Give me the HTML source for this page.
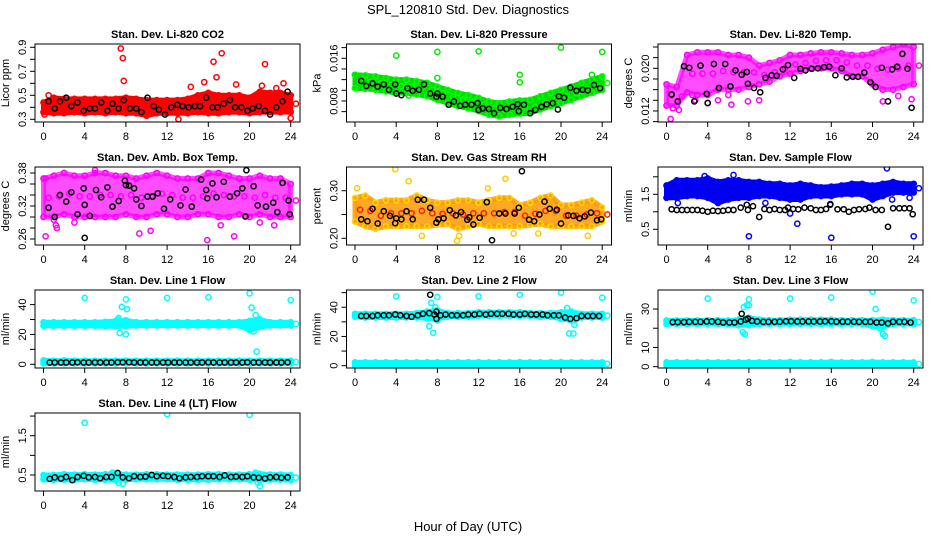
<!DOCTYPE html>
<html><head><meta charset="utf-8">
<style>
html,body{margin:0;padding:0;background:#fff;}
svg{display:block;font-family:"Liberation Sans",Arial,sans-serif;}
</style></head>
<body>
<svg id="chart" width="936" height="540" viewBox="0 0 936 540" xmlns="http://www.w3.org/2000/svg">
<rect x="0" y="0" width="936" height="540" fill="#fff"/>
<text x="468" y="14" text-anchor="middle" font-size="13">SPL_120810  Std. Dev. Diagnostics</text>
<text x="468" y="531" text-anchor="middle" font-size="13">Hour of Day (UTC)</text>
</svg>
<script>
// ---------- data ----------
const bandHours = [0,1,2,3,4,5,6,7,8,9,10,11,12,13,14,15,16,17,18,19,20,21,22,23,24];

// P1 CO2
const co2Lo = [0.36,0.35,0.35,0.36,0.35,0.36,0.35,0.36,0.35,0.35,0.33,0.35,0.35,0.35,0.35,0.36,0.35,0.35,0.36,0.36,0.35,0.36,0.36,0.36,0.36];
const co2Hi = [0.44,0.48,0.47,0.47,0.47,0.47,0.47,0.47,0.48,0.47,0.46,0.46,0.46,0.46,0.47,0.50,0.52,0.50,0.50,0.50,0.48,0.53,0.52,0.52,0.50];
const co2OutX = [7.5,7.7,7.8,16.5,16.8,17.3,21.5,15.6,23.3,18.7,21.2,14.3,22.6,13.1,24,0.1,0.5];
const co2OutY = [0.89,0.81,0.62,0.78,0.65,0.85,0.76,0.61,0.60,0.59,0.58,0.57,0.56,0.30,0.31,0.34,0.50];
const co2BlackX = [0.5,1.1,1.6,2.2,2.7,3.3,3.9,4.5,5,5.6,6.2,6.7,7.3,7.8,8.4,9,9.5,10.1,10.7,11.2,11.8,12.4,13,13.5,14.1,14.7,15.2,15.8,16.4,16.9,17.5,18.1,18.6,19.2,19.8,20.3,20.9,21.5,22,22.6,23.2,23.7];
const co2BlackY = [0.45,0.39,0.45,0.48,0.41,0.44,0.37,0.39,0.39,0.44,0.37,0.43,0.39,0.46,0.39,0.39,0.36,0.48,0.41,0.38,0.34,0.40,0.42,0.41,0.40,0.41,0.41,0.48,0.40,0.40,0.43,0.46,0.40,0.40,0.37,0.39,0.41,0.37,0.34,0.40,0.45,0.53];

// P2 Pressure
const presLo = [0.0104,0.0103,0.0101,0.0098,0.0095,0.0095,0.0092,0.0089,0.0082,0.0076,0.0070,0.0066,0.0061,0.0054,0.0051,0.0054,0.0056,0.0057,0.0064,0.0070,0.0076,0.0082,0.0089,0.0095,0.0101];
const presHi = [0.0129,0.0128,0.0126,0.0123,0.0120,0.0120,0.0117,0.0114,0.0107,0.0101,0.0095,0.0091,0.0086,0.0079,0.0076,0.0079,0.0081,0.0082,0.0089,0.0095,0.0101,0.0107,0.0114,0.0120,0.0126];
const presOutX = [4,8,12,20,24,8,16,16,0,23,5.2];
const presOutY = [0.0165,0.0172,0.0173,0.0180,0.0172,0.0123,0.0129,0.0115,0.0129,0.0129,0.0090];
const presBlackX = [0.6,1.1,1.7,2.2,2.8,3.3,3.9,4.0,4.5,5.1,5.6,6.2,6.7,7.3,7.9,8.0,8.5,9.1,9.6,10.2,10.7,11.3,11.9,12.0,12.4,13,13.5,14.1,14.7,15.3,15.8,15.9,16.4,17,17.5,18.1,18.6,19.2,19.7,19.8,20.3,20.9,21.5,22.1,22.6,23.2,23.8];
const presBlackY = [0.01175,0.0108,0.0113,0.0107,0.0111,0.0101,0.0111,0.0094,0.0091,0.0104,0.0099,0.0101,0.0111,0.0094,0.0088,0.0094,0.0088,0.0073,0.0079,0.0071,0.0073,0.0073,0.0076,0.0063,0.0066,0.0065,0.0057,0.0067,0.0065,0.0069,0.0074,0.0061,0.0073,0.0057,0.0063,0.0069,0.0074,0.0076,0.0064,0.0089,0.0086,0.0105,0.0099,0.0101,0.0100,0.0110,0.0104];

// P3 Li-820 Temp
const tempLo = [0.0130,0.0130,0.0155,0.0150,0.0150,0.0160,0.0160,0.0160,0.0165,0.0170,0.0175,0.0185,0.0190,0.0195,0.0200,0.0200,0.0200,0.0195,0.0185,0.0185,0.0170,0.0160,0.0160,0.0165,0.0170];
const tempHi = [0.0170,0.0165,0.0225,0.0230,0.0230,0.0230,0.0225,0.0225,0.0220,0.0205,0.0210,0.0215,0.0225,0.0225,0.0228,0.0230,0.0230,0.0228,0.0225,0.0225,0.0228,0.0235,0.0240,0.0245,0.0240];
const tempOutX = [0.4,2.8,4,5,6.3,7.9,9,2.5,6,21,22.5,23.8,0.6,1.2];
const tempOutY = [0.0105,0.0140,0.0135,0.0140,0.0132,0.0138,0.0140,0.0150,0.0150,0.0138,0.0148,0.0142,0.0125,0.0122];
const tempBlackX = [0.5,1.1,1.7,2.2,2.7,3.3,3.9,4,4.6,5.1,5.7,6.2,6.7,7.3,7.8,7.9,8.5,9.1,9.6,10.2,10.7,11.3,11.8,12.4,13,13.5,14.1,14.7,15.3,15.8,16.4,17,17.5,18.1,18.6,19.2,19.8,20.3,20.9,21.5,21.9,22.4,22.9,23.4,23.8];
const tempBlackY = [0.0151,0.0138,0.0204,0.0201,0.0138,0.0205,0.0152,0.0135,0.0208,0.0163,0.0208,0.0166,0.0196,0.0188,0.0193,0.0171,0.0163,0.0155,0.0182,0.0187,0.0186,0.0198,0.0206,0.0182,0.0199,0.0196,0.0199,0.0200,0.0202,0.0203,0.0187,0.0200,0.0183,0.0184,0.0184,0.0192,0.0174,0.0165,0.0201,0.0138,0.0198,0.0203,0.0227,0.0199,0.0126];

// P4 Amb Box Temp
const boxLo = [0.30,0.30,0.305,0.30,0.30,0.30,0.30,0.30,0.305,0.30,0.30,0.305,0.305,0.30,0.30,0.305,0.305,0.30,0.30,0.305,0.30,0.305,0.30,0.30,0.30];
const boxHi = [0.37,0.375,0.38,0.375,0.375,0.38,0.38,0.375,0.375,0.37,0.375,0.38,0.375,0.37,0.37,0.37,0.38,0.38,0.375,0.37,0.37,0.375,0.37,0.37,0.36];
const boxOutX = [0.2,1.2,1.3,9.3,10.4,15.9,17.2,18.5,22.4,1.0,5.0,0.2,3.0,21.0];
const boxOutY = [0.265,0.285,0.280,0.270,0.275,0.258,0.285,0.265,0.285,0.295,0.385,0.370,0.290,0.290];
const boxBlackX = [0.5,1.1,1.6,2.2,2.7,3.3,3.9,4.0,4.0,4.5,5.1,5.6,6.2,6.7,7.3,7.9,8.0,8.3,8.8,9.0,9.5,10.1,10.6,11.1,11.7,12.3,13.3,13.8,14.4,15.3,15.8,15.9,16.4,16.8,17.5,18.1,18.8,19.3,19.6,19.7,20.4,20.8,21.6,22.3,22.7,23.2,23.8,23.9];
const boxBlackY = [0.317,0.300,0.340,0.328,0.345,0.305,0.352,0.262,0.322,0.302,0.349,0.336,0.354,0.319,0.329,0.366,0.358,0.357,0.352,0.332,0.320,0.337,0.337,0.343,0.315,0.332,0.321,0.350,0.319,0.368,0.349,0.334,0.361,0.336,0.364,0.337,0.343,0.352,0.301,0.385,0.356,0.321,0.319,0.326,0.309,0.362,0.330,0.305];

// P5 Gas Stream RH
const rhLo = [0.235,0.225,0.22,0.225,0.225,0.225,0.225,0.225,0.228,0.23,0.22,0.225,0.23,0.225,0.225,0.225,0.225,0.228,0.23,0.225,0.225,0.225,0.225,0.225,0.235];
const rhHi = [0.285,0.29,0.275,0.28,0.28,0.28,0.29,0.28,0.275,0.275,0.28,0.28,0.275,0.28,0.285,0.285,0.27,0.275,0.285,0.29,0.27,0.27,0.275,0.28,0.265];
const rhOutX = [3.9,5.2,12.9,14.6,9.9,10.1,6.5,17.8,22.6,0.2,15.4];
const rhOutY = [0.345,0.320,0.305,0.325,0.195,0.205,0.205,0.210,0.205,0.305,0.210];
const rhBlackX = [0.6,1.2,1.7,2.2,2.8,3.4,3.9,4,4.5,5,5.6,6.1,6.7,7.3,7.9,8.1,8.6,9.2,9.8,10.3,10.9,11.1,11.5,12.1,12.8,13.3,14.0,14.6,15.5,15.9,16.2,16.9,17.4,17.9,18.4,18.9,19.6,20.0,20.7,21.2,21.8,22.3,22.9,23.5,23.9];
const rhBlackY = [0.240,0.236,0.262,0.231,0.257,0.247,0.232,0.242,0.240,0.257,0.240,0.281,0.281,0.264,0.233,0.240,0.242,0.259,0.248,0.255,0.239,0.244,0.229,0.243,0.276,0.196,0.252,0.252,0.252,0.264,0.341,0.239,0.236,0.250,0.277,0.262,0.260,0.231,0.248,0.247,0.242,0.246,0.254,0.238,0.240];

// P6 Sample Flow
const sfLo = [1.40,1.40,1.45,1.45,1.40,1.25,1.35,1.40,1.40,1.45,1.45,1.40,1.35,1.35,1.45,1.45,1.45,1.50,1.50,1.50,1.35,1.45,1.55,1.55,1.55];
const sfHi = [1.75,1.90,1.90,1.90,1.95,1.85,1.90,1.90,1.85,1.85,1.80,1.80,1.75,1.80,1.75,1.70,1.72,1.75,1.80,1.80,1.75,1.80,1.85,1.80,1.80];
const sfOutX = [8,16,24,12.7,21.4,12,1.1,9.6,15.9,21.9,23.6,6.5,3.7];
const sfOutY = [0.30,0.26,0.30,0.66,2.24,0.95,1.25,1.25,1.20,1.35,1.40,2.05,2.02];
const sfBlackX = [0.5,1.0,1.5,2.0,2.5,3,3.5,4,4.5,5,5.5,6,6.5,7.2,7.8,7.9,8.4,9.0,9.5,10,10.5,11,11.5,11.8,12.3,12.8,13.4,14,14.5,15,15.5,15.9,16.6,17.2,17.7,18.2,18.7,19.3,19.7,20.3,20.9,21.5,22,22.6,23.1,23.6,23.9];
const sfBlackY = [1.07,1.05,1.05,1.05,1.05,1.05,1.03,1.0,1.03,1.02,1.03,1.05,1.05,1.12,1.2,1.05,1.16,0.85,1.08,1.05,1.08,1.05,1.05,1.12,1.08,1.07,1.12,1.1,1.05,1.05,1.08,1.22,1.07,1.07,1.0,1.05,1.07,1.08,1.12,1.05,1.05,0.57,1.10,1.10,1.10,1.10,0.93];

// Line flows (shared black sample hours)
const lineBlackHours = [0.6,1.1,1.7,2.2,2.8,3.3,3.9,4.4,5,5.5,6.1,6.6,7.2,7.7,8.3,8.8,9.4,9.9,10.5,11,11.6,12.1,12.7,13.2,13.8,14.3,14.9,15.4,16,16.5,17.1,17.6,18.2,18.7,19.3,19.8,20.4,20.9,21.5,22,22.6,23.1,23.7];

// P7 Line 1
const l1UpLo = [25.8,25.8,25.8,25.8,25.8,25.8,25.5,25.5,25.5,26,26,26,26,26,26,26,26,26,26,26,23,25,26,26,26];
const l1UpHi = [28.2,28.2,28.2,28.2,28.2,28.2,28.5,29,29.5,28.2,28.2,28.2,28.2,28.2,28.2,28.2,28.2,28.2,28.2,28.2,29,30,28.2,28.2,28.2];
const l1DnLo = [0.6,0.6,0.6,0.6,0.6,0.6,0.6,0.6,0.6,0.6,0.6,0.6,0.6,0.6,0.6,0.6,0.6,0.6,0.6,0.6,0.6,0.6,0.6,0.6,0.6];
const l1DnHi = [2.6,2.4,2.6,2.4,2.4,2.4,2.4,2.4,2.4,2.4,2.4,2.4,2.4,2.4,2.4,2.4,2.4,2.4,2.4,2.4,2.4,2.4,2.4,2.4,2.4];
const l1OutX = [4,8,12,16,20,24,7.6,8.1,7.3,7.4,8,20.2,20.6,20.7,20.4,21,7.2];
const l1OutY = [44.5,43.5,44.5,45,47.5,43,38.5,37,31,21,20,38,33,8.5,22,30,30];
const l1BlackY = [1.2,1.2,1.2,1.2,1.2,1.3,1.2,1.2,1.2,1.2,1.2,1.2,1.3,1.3,1.4,1.2,1.2,1.2,1.2,1.2,1.2,1.2,1.2,1.2,1.2,1.2,1.2,1.2,1.3,1.2,1.2,1.2,1.2,1.2,1.2,1.3,1.2,1.2,1.2,1.2,1.2,1.2,1.3];

// P8 Line 2
const l2UpLo = [33.5,33,33,33,33,33,33,32.5,32,33.5,33.5,33.5,34,34,34,34,34,34,33.5,33.5,32,31,33,33,33];
const l2UpHi = [35.5,35.5,35.5,35.5,35.5,35.5,36,37,38,36,36,36,36.5,36.5,36.5,36.5,36.5,36,36,36,36.5,37,35.5,35.5,35.5];
const l2DnLo = [0.3,0.3,0.3,0.3,0.3,0.3,0.3,0.3,0.3,0.3,0.3,0.3,0.3,0.3,0.3,0.3,0.3,0.3,0.3,0.3,0.3,0.3,0.3,0.3,0.3];
const l2DnHi = [2.2,2.2,2.2,2.2,2.2,2.2,2.2,2.2,2.2,2.2,2.2,2.4,2.4,2.2,2.2,2.2,2.4,2.2,2.2,2.4,2.4,2.2,2.2,2.2,2.2];
const l2OutX = [4,8,12,16,20,24,7.2,7.6,7.4,8,20.6,20.8,21.2,21.3,7.8];
const l2OutY = [47.5,47,47.5,48.5,50,46.5,27,22.5,43,31,39.5,22,22,28,40];
const l2BlackY = [34,34,34,34.5,34.5,34.5,35,34.5,34,33.5,34.5,35.5,36,35,34.5,35,34.5,34.5,34.5,35,35,35.5,35,35.5,35.5,35.5,35.5,35,35,35.5,35,35,35,34.5,34.5,34.5,33,32,32.5,34,34,34,34];
const l2BlackExX = [7.3,7.9,7.9];
const l2BlackExY = [48.5,32,37];

// P9 Line 3
const l3UpLo = [22.2,22.2,22.2,22.2,22.2,22.2,22,21.5,21.5,22.2,22.2,22.2,22.2,22.2,22.2,22.2,22.2,22.2,22.2,22.2,21,20.5,22.2,22.2,22.2];
const l3UpHi = [24,24,24,24,24.2,24.2,24,24.5,25.5,24.5,24.2,24.2,24.5,24.5,24.5,24.5,24.5,24.2,24.2,24.2,24.2,24.5,24.2,24.2,24.2];
const l3DnLo = [0.6,0.6,0.6,0.6,0.6,0.6,0.6,0.6,0.6,0.6,0.6,0.6,0.6,0.6,0.6,0.6,0.6,0.6,0.6,0.6,0.6,0.6,0.6,0.6,0.6];
const l3DnHi = [2.2,2.2,2.2,2.2,2.2,2.2,2.2,2.2,2.2,2.2,2.2,2.2,2.4,2.2,2.2,2.2,2.4,2.2,2.2,2.2,2.4,2.2,2.2,2.2,2.2];
const l3OutX = [4,8,12,16,20,24,7.5,7.8,8.0,7.4,7.6,20.3,20.7,21,21.2,7.2];
const l3OutY = [35.5,35,35.5,36,39,34.5,31,32,32,18,17,30,20,17,16,25];
const l3BlackY = [23.2,23.2,23.2,23.3,23.3,23.3,23.5,23.5,23.3,23,23,23,23.5,24.5,23.8,23.5,23.3,23.3,23.3,23.4,23.6,23.6,23.5,23.5,23.5,23.5,23.5,23.6,23.6,23.4,23.4,23.4,23.4,23.3,23.3,23.3,23,23,22.5,23.3,23.3,23.3,23];
const l3BlackExX = [7.3,7.9];
const l3BlackExY = [27.5,25];

// P10 Line 4
const l4Lo = [0.39,0.38,0.38,0.38,0.39,0.38,0.38,0.37,0.38,0.39,0.39,0.39,0.39,0.38,0.38,0.38,0.38,0.39,0.39,0.39,0.38,0.37,0.38,0.38,0.37];
const l4Hi = [0.50,0.50,0.52,0.51,0.52,0.51,0.52,0.53,0.51,0.51,0.52,0.52,0.51,0.51,0.51,0.51,0.52,0.52,0.51,0.51,0.52,0.53,0.51,0.51,0.50];
const l4OutX = [4,12,20,7.3,7.7,21,20.8,6.7,20.6];
const l4OutY = [1.83,2.05,2.03,0.30,0.28,0.22,0.30,0.56,0.56];
const l4BlackY = [0.40,0.44,0.41,0.45,0.37,0.45,0.48,0.44,0.45,0.42,0.45,0.45,0.55,0.44,0.42,0.47,0.45,0.46,0.50,0.47,0.48,0.47,0.45,0.42,0.44,0.45,0.45,0.47,0.47,0.47,0.45,0.49,0.45,0.46,0.45,0.47,0.44,0.43,0.41,0.44,0.45,0.43,0.44];

// ---------- layout ----------
const NS = 'http://www.w3.org/2000/svg';
const svg = document.getElementById('chart');
const cols = [35, 346.5, 658];
const rows = [44, 167, 290, 413];
const PW = 265, PH = 78;

function mk(tag, attrs, parent) {
  const e = document.createElementNS(NS, tag);
  for (const k in attrs) e.setAttribute(k, attrs[k]);
  (parent || svg).appendChild(e);
  return e;
}

function makePanel(cfg) {
  const left = cols[cfg.col], top = rows[cfg.row];
  const g = mk('g', {});
  
  
  const xs = h => left + 8.5 + h * 10.3;
  const ys = v => top + (cfg.yTop - v) / (cfg.yTop - cfg.yBot) * PH;
  const clip = mk('clipPath', { id: 'clip-' + cfg.name }, g);
  mk('rect', { x: left, y: top, width: PW, height: PH }, clip);
  const plot = mk('g', { 'clip-path': 'url(#clip-' + cfg.name + ')' }, g);
  
  

  function circle(x, y, color, parent) {
    const c = mk('circle', { cx: xs(x).toFixed(1), cy: ys(y).toFixed(1), r: 2.6, fill: 'none', stroke: color, 'stroke-width': 1.5 }, parent);
    
    
    return c;
  }

  (cfg.bands || []).forEach((b, bi) => {
    const bg = mk('g', {}, plot);
    
    
    let pts = [];
    bandHours.forEach((h, i) => pts.push(xs(h).toFixed(1) + ',' + ys(b.hi[i]).toFixed(1)));
    for (let i = bandHours.length - 1; i >= 0; i--) pts.push(xs(bandHours[i]).toFixed(1) + ',' + ys(b.lo[i]).toFixed(1));
    const poly = mk('polygon', { points: pts.join(' '), fill: b.fill, 'fill-opacity': b.op || 1, stroke: b.fill, 'stroke-opacity': b.op || 1, 'stroke-width': 5, 'stroke-linejoin': 'round' }, bg);
    
    
    bandHours.forEach((h, i) => {
      circle(h, b.hi[i], b.c1, bg);
      circle(h, b.lo[i], b.c1, bg);
      circle(h + 0.5, (b.lo[i] + b.hi[i]) / 2, b.c2 || b.c1, bg);
    });
  });
  (cfg.outX || []).forEach((x, i) => circle(x, cfg.outY[i], cfg.outColor, plot));
  (cfg.blackX || []).forEach((x, i) => circle(x, cfg.blackY[i], '#000', plot));
  (cfg.blackExX || []).forEach((x, i) => circle(x, cfg.blackExY[i], '#000', plot));

  const box = mk('rect', { x: left, y: top, width: PW, height: PH, fill: 'none', stroke: '#000', 'stroke-width': 1 }, g);
  
  
  const xa = mk('g', {}, g);
  
  
  [0, 4, 8, 12, 16, 20, 24].forEach(t => {
    mk('line', { x1: xs(t), x2: xs(t), y1: top + PH, y2: top + PH + 5, stroke: '#000' }, xa);
    const tx = mk('text', { x: xs(t), y: top + PH + 18, 'text-anchor': 'middle', 'font-size': 11 }, xa);
    tx.textContent = t;
    
    
  });
  const ya = mk('g', {}, g);
  
  
  cfg.yTicks.forEach(t => {
    const y = ys(t);
    if (y < top - 1 || y > top + PH + 1) return;
    mk('line', { x1: left, x2: left - 5, y1: y, y2: y, stroke: '#000' }, ya);
  });
  cfg.yLabels.forEach(t => {
    const y = ys(t);
    const tx = mk('text', { x: left - 9, y: y, 'text-anchor': 'middle', 'font-size': 11, transform: 'rotate(-90 ' + (left - 9) + ' ' + y + ')' }, ya);
    tx.textContent = cfg.fmt ? cfg.fmt(t) : t;
    
    
  });
  const yt = mk('text', { x: left - 26, y: top + PH / 2, 'text-anchor': 'middle', 'font-size': 11, transform: 'rotate(-90 ' + (left - 26) + ' ' + (top + PH / 2) + ')' }, g);
  yt.textContent = cfg.ylab;
  
  
  const tt = mk('text', { x: left + PW / 2, y: top - 6, 'text-anchor': 'middle', 'font-size': 11, 'font-weight': 'bold' }, g);
  tt.textContent = cfg.title;
  
  
}

const f3 = v => v.toFixed(3);
const f2 = v => v.toFixed(2);
const f1 = v => v.toFixed(1);
const cyan = '#00ffff';

makePanel({ name: 'panel-co2', col: 0, row: 0, title: 'Stan. Dev. Li-820 CO2', ylab: 'Licor ppm', yTop: 0.9275, yBot: 0.2775,
  yTicks: [0.3, 0.4, 0.5, 0.6, 0.7, 0.8, 0.9], yLabels: [0.3, 0.5, 0.7, 0.9], fmt: f1,
  bands: [{ lo: co2Lo, hi: co2Hi, fill: '#ff0000', c1: '#ff0000' }], outX: co2OutX, outY: co2OutY, outColor: '#ff0000', blackX: co2BlackX, blackY: co2BlackY });
makePanel({ name: 'panel-pressure', col: 1, row: 0, title: 'Stan. Dev. Li-820 Pressure', ylab: 'kPa', yTop: 0.01868, yBot: 0.004056,
  yTicks: [0.006, 0.008, 0.010, 0.012, 0.014, 0.016, 0.018], yLabels: [0.008, 0.016], fmt: f3,
  bands: [{ lo: presLo, hi: presHi, fill: '#00dd00', c1: '#00ff00' }], outX: presOutX, outY: presOutY, outColor: '#00ee00', blackX: presBlackX, blackY: presBlackY });
makePanel({ name: 'panel-li820-temp', col: 2, row: 0, title: 'Stan. Dev. Li-820 Temp.', ylab: 'degrees C', yTop: 0.02456, yBot: 0.00993,
  yTicks: [0.010, 0.012, 0.014, 0.016, 0.018, 0.020, 0.022, 0.024], yLabels: [0.012, 0.020], fmt: f3,
  bands: [{ lo: tempLo, hi: tempHi, fill: '#ff00ff', c1: '#ff00ff', op: 0.7 }], outX: tempOutX, outY: tempOutY, outColor: '#ff00ff', blackX: tempBlackX, blackY: tempBlackY });
makePanel({ name: 'panel-amb-box-temp', col: 0, row: 1, title: 'Stan. Dev. Amb. Box Temp.', ylab: 'degrees C', yTop: 0.3909, yBot: 0.2491,
  yTicks: [0.26, 0.28, 0.30, 0.32, 0.34, 0.36, 0.38], yLabels: [0.26, 0.32, 0.38], fmt: f2,
  bands: [{ lo: boxLo, hi: boxHi, fill: '#ff00ff', c1: '#ff00ff', op: 0.7 }], outX: boxOutX, outY: boxOutY, outColor: '#ff00ff', blackX: boxBlackX, blackY: boxBlackY });
makePanel({ name: 'panel-gas-stream-rh', col: 1, row: 1, title: 'Stan. Dev. Gas Stream RH', ylab: 'percent', yTop: 0.3498, yBot: 0.1859,
  yTicks: [0.20, 0.25, 0.30], yLabels: [0.20, 0.30], fmt: f2,
  bands: [{ lo: rhLo, hi: rhHi, fill: '#ff9900', c1: '#ffdd00', c2: '#ff2200', op: 0.85 }], outX: rhOutX, outY: rhOutY, outColor: '#ffcc00', blackX: rhBlackX, blackY: rhBlackY });
makePanel({ name: 'panel-sample-flow', col: 2, row: 1, title: 'Stan. Dev. Sample Flow', ylab: 'ml/min', yTop: 2.28, yBot: 0.051,
  yTicks: [0.5, 1.0, 1.5, 2.0], yLabels: [0.5, 1.5], fmt: f1,
  bands: [{ lo: sfLo, hi: sfHi, fill: '#0000ee', c1: '#0000ff' }], outX: sfOutX, outY: sfOutY, outColor: '#0000ff', blackX: sfBlackX, blackY: sfBlackY });
makePanel({ name: 'panel-line1-flow', col: 0, row: 2, title: 'Stan. Dev. Line 1 Flow', ylab: 'ml/min', yTop: 49.8, yBot: -2.5,
  yTicks: [0, 10, 20, 30, 40], yLabels: [0, 20, 40],
  bands: [{ lo: l1UpLo, hi: l1UpHi, fill: cyan, c1: cyan }, { lo: l1DnLo, hi: l1DnHi, fill: cyan, c1: cyan }], outX: l1OutX, outY: l1OutY, outColor: cyan, blackX: lineBlackHours, blackY: l1BlackY });
makePanel({ name: 'panel-line2-flow', col: 1, row: 2, title: 'Stan. Dev. Line 2 Flow', ylab: 'ml/min', yTop: 51.8, yBot: -1.6,
  yTicks: [0, 10, 20, 30, 40, 50], yLabels: [0, 20, 40],
  bands: [{ lo: l2UpLo, hi: l2UpHi, fill: cyan, c1: cyan }, { lo: l2DnLo, hi: l2DnHi, fill: cyan, c1: cyan }], outX: l2OutX, outY: l2OutY, outColor: cyan, blackX: lineBlackHours, blackY: l2BlackY, blackExX: l2BlackExX, blackExY: l2BlackExY });
makePanel({ name: 'panel-line3-flow', col: 2, row: 2, title: 'Stan. Dev. Line 3 Flow', ylab: 'ml/min', yTop: 39.9, yBot: -0.7,
  yTicks: [0, 10, 20, 30], yLabels: [0, 10, 30],
  bands: [{ lo: l3UpLo, hi: l3UpHi, fill: cyan, c1: cyan }, { lo: l3DnLo, hi: l3DnHi, fill: cyan, c1: cyan }], outX: l3OutX, outY: l3OutY, outColor: cyan, blackX: lineBlackHours, blackY: l3BlackY, blackExX: l3BlackExX, blackExY: l3BlackExY });
makePanel({ name: 'panel-line4-flow', col: 0, row: 3, title: 'Stan. Dev. Line 4 (LT) Flow', ylab: 'ml/min', yTop: 2.078, yBot: 0.093,
  yTicks: [0.5, 1.0, 1.5, 2.0], yLabels: [0.5, 1.5], fmt: f1,
  bands: [{ lo: l4Lo, hi: l4Hi, fill: cyan, c1: cyan }], outX: l4OutX, outY: l4OutY, outColor: cyan, blackX: lineBlackHours, blackY: l4BlackY });
</script>
</body></html>
